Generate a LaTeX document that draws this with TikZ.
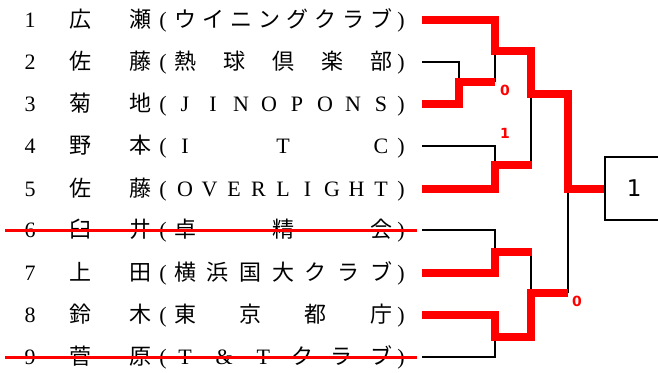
\documentclass[tikz,border=0pt]{standalone}
\usepackage{fontspec}
\setmainfont{Liberation Serif}
\newfontfamily\jp{Noto Sans CJK JP}
\newfontfamily\dvs{DejaVu Sans}
\tikzset{
  blk/.style={line width=2.2pt, black},
  win/.style={line width=8pt, red},
  strike/.style={line width=3pt, red},
  ch/.style={anchor=base, inner sep=0pt, font=\fontsize{22}{22}\selectfont},
  score/.style={text=red, inner sep=0pt, font=\dvs\bfseries\fontsize{14}{14}\selectfont},
  finalbox/.style={draw, line width=2.2pt, minimum width=58pt, minimum height=63pt, inner sep=0pt, anchor=west, font=\dvs\fontsize{23}{23}\selectfont},
}
% #1 id, #2 y, #3 number, #4 #5 surname chars, #6 count, #7 font, #8 list
\newcommand\teamrow[8]{%
  \node[ch] (n#1) at (30,#2+7.5) {#3};
  \node[ch] (sa#1) at (80,#2+7.5) {\jp #4};
  \node[ch] (sb#1) at (140,#2+7.5) {\jp #5};
  \node[ch] (o#1) at (163,#2+7.5) {(};
  \node[ch] (c#1) at (401,#2+7.5) {)};
  \foreach \t [count=\i] in {#8} {
    \node[ch] (t#1-\i) at ({185+196*(\i-1)/(#6-1)},#2+7.5) {#7\t};
  }
  \coordinate (e#1) at (422,#2);
}
\begin{document}
\begin{tikzpicture}[x=1pt,y=-1pt]
\useasboundingbox (0,0) rectangle (658,372);
\teamrow{1}{20}{1}{広}{瀬}{8}{\jp}{ウ,イ,ニ,ン,グ,ク,ラ,ブ}
\teamrow{2}{62}{2}{佐}{藤}{5}{\jp}{熱,球,倶,楽,部}
\teamrow{3}{104}{3}{菊}{地}{8}{}{J,I,N,O,P,O,N,S}
\teamrow{4}{146}{4}{野}{本}{3}{}{I,T,C}
\teamrow{5}{189}{5}{佐}{藤}{9}{}{O,V,E,R,L,I,G,H,T}
\teamrow{6}{230}{6}{臼}{井}{3}{\jp}{卓,精,会}
\teamrow{7}{273}{7}{上}{田}{7}{\jp}{横,浜,国,大,ク,ラ,ブ}
\teamrow{8}{315}{8}{鈴}{木}{4}{\jp}{東,京,都,庁}
\teamrow{9}{357}{9}{菅}{原}{6}{}{T,\&,T,{\jp ク},{\jp ラ},{\jp ブ}}
% strike-through lines
\coordinate (s6a) at (5,230); \coordinate (s6b) at (417,230);
\coordinate (s9a) at (5,357); \coordinate (s9b) at (417,357);
\draw[strike] (s6a) -- (s6b);
\draw[strike] (s9a) -- (s9b);
% joints
\coordinate (m23) at (459,82);
\coordinate (A) at (495,51);
\coordinate (A2) at (531,51);
\coordinate (B) at (495,82);
\coordinate (C) at (495,165);
\coordinate (C2) at (532,165);
\coordinate (C3) at (531,165);
\coordinate (D) at (531,94);
\coordinate (D2) at (568,94);
\coordinate (E) at (495,252);
\coordinate (E2) at (532,252);
\coordinate (E3) at (531,252);
\coordinate (F) at (495,337);
\coordinate (F2) at (531,337);
\coordinate (G) at (531,293);
\coordinate (G2) at (568,293);
\coordinate (H) at (568,189);
\node[finalbox] (box) at (604,188.5) {1};
% black lines
\draw[blk] (e2) -| (m23);
\draw[blk] (B) -- (A);
\draw[blk] (e4) -| (C);
\draw[blk] (D) -- (C3);
\draw[blk] (e6) -| (E);
\draw[blk] (E3) -- (G);
\draw[blk] (e9) -| (F);
\draw[blk] (H) -- (G2);
% red winner lines
\draw[win] (e1) -| (A) -- (A2) -- (D) -- (D2) |- (box.west);
\draw[win] (e3) -| (m23) -- (B);
\draw[win] (e5) -| (C) -- (C2);
\draw[win] (e7) -| (E) -- (E2);
\draw[win] (e8) -| (F) -- (F2) -- (G) -- (G2);
% scores
\node[score] (sc1) at (505,90) {0};
\node[score] (sc2) at (505,133) {1};
\node[score] (sc3) at (577,301) {0};
\end{tikzpicture}
\end{document}
